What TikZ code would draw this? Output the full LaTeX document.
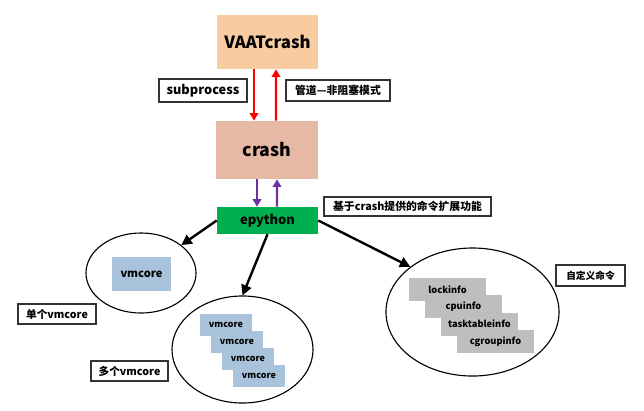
\documentclass[tikz,border=0pt]{standalone}
\usepackage{fontspec}
\setmainfont{Noto Sans CJK SC}
\usetikzlibrary{arrows.meta,calc,shapes.geometric}
\definecolor{peach}{RGB}{248,203,160}
\definecolor{rose}{RGB}{230,185,165}
\definecolor{leaf}{RGB}{0,176,80}
\definecolor{steel}{RGB}{170,195,220}
\definecolor{ash}{RGB}{190,190,190}
\definecolor{plum}{RGB}{112,48,160}
\tikzset{
  stage/.style={rectangle, inner sep=0pt, font=\bfseries},
  tag/.style={rectangle, draw=black!80, line width=0.9pt, fill=white, inner sep=0pt, font=\bfseries\fontsize{7.7}{9}\selectfont},
  pool/.style={ellipse, draw=black, line width=0.8pt, inner sep=0pt},
  core/.style={rectangle, fill=steel, inner sep=0pt, font=\bfseries},
  cmd/.style={rectangle, fill=ash, inner sep=0pt, minimum width=1.925cm, minimum height=0.575cm, font=\bfseries\fontsize{6.6}{8}\selectfont},
  callln/.style={-{Triangle[length=1.9mm,width=2.1mm]}, line width=1.6pt},
  fanln/.style={-{Triangle[length=2.6mm,width=2.6mm]}, line width=1.7pt, black},
}
\begin{document}
\begin{tikzpicture}[x=0.025cm,y=-0.025cm]
    \useasboundingbox (0,0) rectangle (644,410);
    % the three layers
    \node[stage, fill=peach, minimum width=2.525cm, minimum height=1.35cm, font=\bfseries\fontsize{11.9}{14}\selectfont] (vaat) at (267.5,42) {VAATcrash};
    \node[stage, fill=rose, minimum width=2.55cm, minimum height=1.45cm, font=\bfseries\fontsize{12.6}{15}\selectfont] (crash) at (267,150) {crash};
    \node[stage, fill=leaf, minimum width=2.525cm, minimum height=0.675cm, font=\bfseries\fontsize{9.2}{11}\selectfont] (epython) at (267.5,220.5) {epython};
    % VAATcrash <-> crash
    \draw[callln, red] ($(vaat.south)+(-13.5,0)$) -- ($(crash.north)+(-13,0)$);
    \draw[callln, red] ($(crash.north)+(9,0)$) -- ($(vaat.south)+(8.5,0)$);
    \node[tag, minimum width=2.2cm, minimum height=0.575cm, font=\bfseries\fontsize{9.1}{11}\selectfont] (subp) at (203,90.5) {subprocess};
    \node[tag, minimum width=2.6cm, minimum height=0.525cm] (pipe) at (338,90.5) {管道—非阻塞模式};
    % crash <-> epython
    \draw[callln, plum] ($(crash.south)+(-10,0)$) -- ($(epython.north)+(-10.5,0)$);
    \draw[callln, plum] ($(epython.north)+(9.5,0)$) -- ($(crash.south)+(10,0)$);
    \node[tag, minimum width=4.175cm, minimum height=0.475cm] (ext) at (407.5,206.5) {基于crash提供的命令扩展功能};
    % the three uses
    \node[pool, minimum width=2.75cm, minimum height=2cm] (single) at (141,273) {};
    \node[pool, minimum width=3.525cm, minimum height=2.675cm] (multi) at (242.5,349.5) {};
    \node[pool, minimum width=4.325cm, minimum height=3.2cm] (custom) at (472.5,312) {};
    \draw[fanln] (epython.west) -- (single);
    \draw[fanln] (epython.south) -- (multi.north);
    \draw[fanln] (epython.east) -- (custom.144);
    % one vmcore
    \node[core, minimum width=1.475cm, minimum height=0.85cm, font=\bfseries\fontsize{7.9}{10}\selectfont] (one) at (141.5,274) {vmcore};
    \node[tag, minimum width=1.95cm, minimum height=0.5cm, font=\bfseries\fontsize{7.6}{9}\selectfont] (onetag) at (57,314) {单个vmcore};
    % several vmcores
    \foreach \i in {1,...,4}
      \node[core, minimum width=1.3cm, minimum height=0.55cm, font=\bfseries\fontsize{6.4}{8}\selectfont] (many\i) at (215+11*\i,308+17*\i) {vmcore};
    \node[tag, minimum width=1.925cm, minimum height=0.5cm, font=\bfseries\fontsize{7.6}{9}\selectfont] (manytag) at (129.5,371) {多个vmcore};
    % custom commands
    \foreach \txt [count=\i] in {lockinfo,cpuinfo,tasktableinfo,cgroupinfo}
      \node[cmd] (cmd\i) at (431.5+16*\i,272.2+17.3*\i) {\txt};
    \node[tag, minimum width=1.725cm, minimum height=0.525cm, font=\bfseries\fontsize{6.9}{8}\selectfont] (cmdtag) at (590.5,275.5) {自定义命令};
\end{tikzpicture}
\end{document}
